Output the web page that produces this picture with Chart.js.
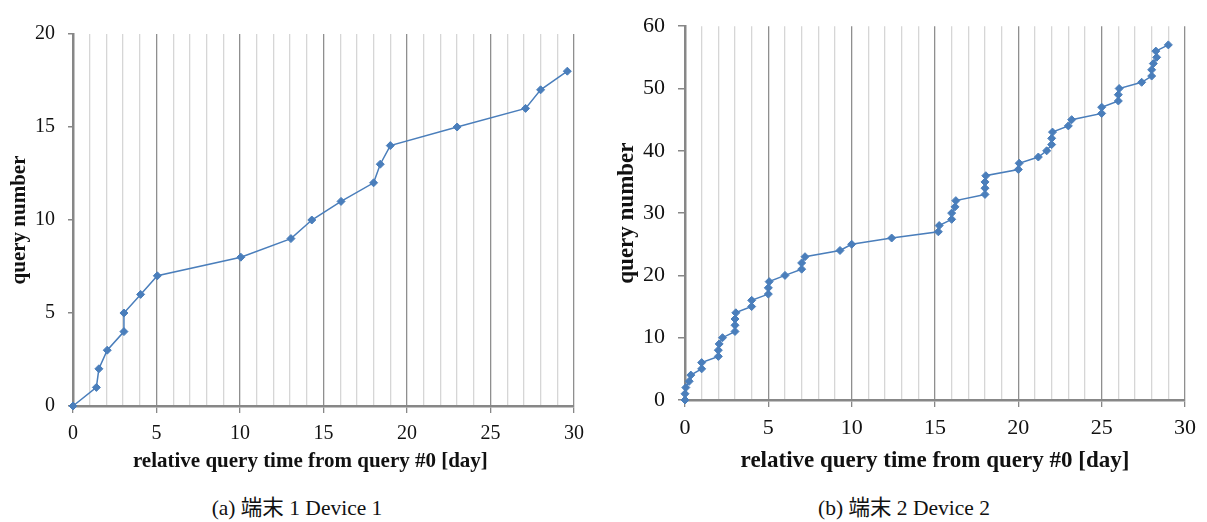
<!DOCTYPE html>
<html>
<head>
<meta charset="utf-8">
<script src="https://cdn.jsdelivr.net/npm/chart.js@4.4.1/dist/chart.umd.min.js"></script>
<style>
  html, body { margin: 0; padding: 0; background: #fff; width: 1207px; height: 522px; overflow: hidden; }
  canvas { position: absolute; top: 0; }
  #c1 { left: 0; }
  #c2 { left: 605px; }
  .cap { position: absolute; top: 495px; transform: translateX(-50%); white-space: nowrap; line-height: 26px;
         font-family: "Liberation Serif", "Noto Sans CJK JP", serif; font-size: 21.5px; color: #111; }
</style>
</head>
<body>
<canvas id="c1" width="600" height="480"></canvas>
<canvas id="c2" width="602" height="480"></canvas>
<div class="cap" style="left:297px">(a) 端末 1 Device 1</div>
<div class="cap" style="left:904px">(b) 端末 2 Device 2</div>
<script>
// ---- data ----
const device1Days = [0, 1.4, 1.55, 2.05, 3.05, 3.05, 4.05, 5.05, 10.05, 13.05, 14.3, 16.05, 18, 18.4, 19, 23, 27.1, 28, 29.6];
const device1Query = [0, 1, 2, 3, 4, 5, 6, 7, 8, 9, 10, 11, 12, 13, 14, 15, 16, 17, 18];

const device2Days = [0, 0, 0.05, 0.25, 0.35, 1, 1, 2, 2, 2.05, 2.25, 3, 3, 3, 3.05, 4, 4, 5, 5, 5.05,
  6, 7, 7, 7.2, 9.3, 10, 12.4, 15.2, 15.25, 16, 16, 16.2, 16.25, 18, 18, 18, 18.05, 20, 20.05, 21.2,
  21.7, 22, 22, 22.05, 23, 23.2, 25, 25, 26, 26, 26.05, 27.4, 28, 28, 28.1, 28.3, 28.25, 29];
const device2Query = [0, 1, 2, 3, 4, 5, 6, 7, 8, 9, 10, 11, 12, 13, 14, 15, 16, 17, 18, 19,
  20, 21, 22, 23, 24, 25, 26, 27, 28, 29, 30, 31, 32, 33, 34, 35, 36, 37, 38, 39,
  40, 41, 42, 43, 44, 45, 46, 47, 48, 49, 50, 51, 52, 53, 54, 55, 56, 57];

const xTitle = 'relative query time from query #0 [day]';
const yTitle = 'query number';
const xMin = 0, xMax = 30, xMajor = 5;
const y1Max = 20, y1Step = 5;
const y2Max = 60, y2Step = 10;

// ---- chart builder ----
const BLUE = '#4a7ebb';
const AXIS = '#878787';
const serif = '"Liberation Serif", "Times New Roman", serif';

function makeChart(id, xs, ys, yMax, yStep, L) {
  const pts = xs.map((x, i) => ({ x: x, y: ys[i] }));
  return new Chart(document.getElementById(id), {
    type: 'scatter',
    data: { datasets: [{
      data: pts, showLine: true, borderColor: BLUE, borderWidth: 1.5,
      backgroundColor: BLUE, pointBackgroundColor: BLUE, pointBorderColor: BLUE,
      pointStyle: 'rectRot', pointRadius: 4, pointBorderWidth: 1, clip: 10, tension: 0
    }]},
    options: {
      responsive: false, animation: false, devicePixelRatio: 1,
      layout: { padding: { top: L.top, right: L.right, left: 0, bottom: 0 } },
      plugins: { legend: { display: false }, tooltip: { enabled: false } },
      scales: {
        x: {
          type: 'linear', min: xMin, max: xMax,
          afterFit: s => { s.height = L.xh; },
          border: { display: true, color: AXIS, width: 2.5 },
          grid: {
            color: c => (c.tick && c.tick.value % xMajor === 0) ? '#8f8f8f' : '#d6d6d6',
            lineWidth: 1.3,
            tickColor: c => (c.tick && c.tick.value % xMajor === 0) ? AXIS : 'rgba(0,0,0,0)',
            tickLength: L.xtl, drawTicks: true
          },
          ticks: {
            stepSize: 1, autoSkip: false, maxRotation: 0, padding: L.xtp,
            color: '#111', font: { family: serif, size: L.tf },
            callback: v => (v % xMajor === 0) ? String(v) : ''
          },
          title: { display: true, text: xTitle + L.xpad, color: '#111',
                   font: { family: serif, size: L.ttf, weight: 'bold' },
                   padding: { top: 0, bottom: L.xtitle } }
        },
        y: {
          type: 'linear', min: 0, max: yMax,
          afterFit: s => { s.width = L.yw; },
          border: { display: true, color: AXIS, width: 2.5 },
          grid: { drawOnChartArea: false, drawTicks: true, tickLength: L.ytl, tickColor: AXIS, lineWidth: 1.5 },
          ticks: { stepSize: yStep, padding: 13, color: '#111', font: { family: serif, size: L.tf } },
          title: { display: true, text: yTitle, color: '#111',
                   font: { family: serif, size: L.ttf, weight: 'bold' },
                   padding: { top: L.ytitle, bottom: 0 } }
        }
      }
    }
  });
}

makeChart('c1', device1Days, device1Query, y1Max, y1Step,
  { top: 34, right: 26, xh: 74, yw: 73, xtl: 7, xtp: 9, xtitle: 6, ytl: 5, ytitle: 7,
    tf: 20, ttf: 21, xpad: '\u00a0\u00a0\u00a0\u00a0\u00a0' });
makeChart('c2', device2Days, device2Query, y2Max, y2Step,
  { top: 18, right: 22, xh: 80, yw: 80, xtl: 7, xtp: 8, xtitle: 5, ytl: 7, ytitle: 8,
    tf: 22, ttf: 23, xpad: '' });
</script>
</body>
</html>
